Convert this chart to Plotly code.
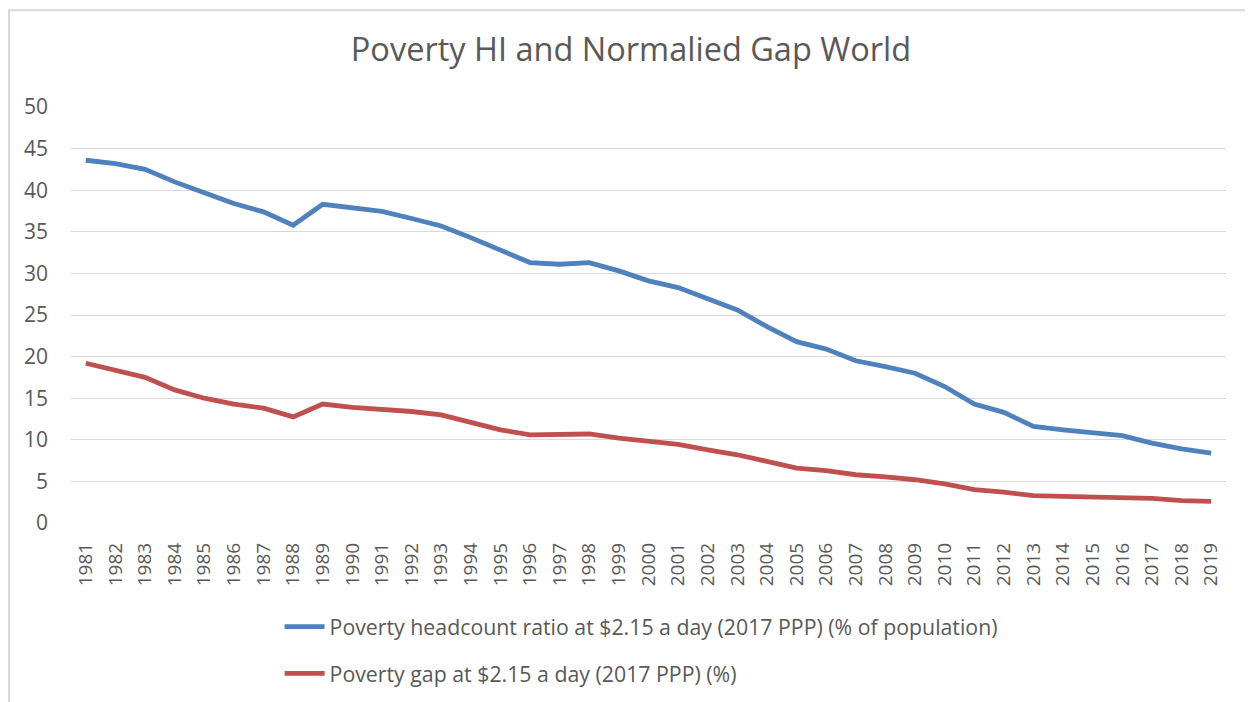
import plotly.graph_objects as go

years = list(range(1981, 2020))
headcount = [43.6, 43.2, 42.5, 41.0, 39.7, 38.4, 37.4, 35.8, 38.3, 37.9,
             37.45, 36.6, 35.7, 34.3, 32.8, 31.3, 31.1, 31.3, 30.3, 29.1,
             28.3, 27.0, 25.6, 23.6, 21.8, 20.9, 19.5, 18.8, 18.0, 16.4,
             14.3, 13.3, 11.6, 11.2, 10.8, 10.5, 9.6, 8.9, 8.4]
gap = [19.2, 18.4, 17.5, 16.0, 15.0, 14.3, 13.8, 12.75, 14.3, 13.9,
       13.7, 13.4, 13.0, 12.1, 11.2, 10.6, 10.6, 10.7, 10.2, 9.8,
       9.45, 8.8, 8.2, 7.4, 6.6, 6.3, 5.8, 5.55, 5.2, 4.7,
       4.0, 3.7, 3.3, 3.2, 3.15, 3.07, 2.95, 2.7, 2.6]
series_names = ["Poverty headcount ratio at $2.15 a day (2017 PPP) (% of population)",
                "Poverty gap at $2.15 a day (2017 PPP) (%)"]
title_text = "Poverty HI and Normalied Gap World"
y_ticks = [0, 5, 10, 15, 20, 25, 30, 35, 40, 45, 50]

FONT = "Open Sans"
GREY = "#595959"

fig = go.Figure()
fig.add_trace(go.Scatter(x=[str(y) for y in years], y=headcount, mode="lines",
                         name=series_names[0], legendgroup="a",
                         line=dict(color="#4f81bd", width=4.8)))
fig.add_trace(go.Scatter(x=[str(y) for y in years], y=gap, mode="lines",
                         name=series_names[1], legendgroup="b",
                         line=dict(color="#c0504d", width=4.8)))

fig.update_layout(
    width=1253, height=702,
    margin=dict(l=63, r=35, t=99, b=187),
    paper_bgcolor="white", plot_bgcolor="white",
    title=dict(text=title_text, x=0.4972, xanchor="center", y=0.9405, yanchor="middle",
               font=dict(family=FONT, size=32.5, color=GREY)),
    font=dict(family=FONT, color=GREY),
    xaxis=dict(type="category", tickangle=-90, showgrid=False, showline=False,
               ticks="", tickfont=dict(size=19, color=GREY), range=[-0.5, 38.5],
               ticklabelstandoff=15),
    yaxis=dict(range=[0, 50], tickvals=y_ticks, showgrid=True, gridcolor="#d9d9d9",
               gridwidth=1.2, zeroline=False, showline=False, ticks="",
               tickfont=dict(size=21, color=GREY), ticklabelstandoff=22),
    legend=dict(x=0.1806, xanchor="left", y=-0.2004, yanchor="top", orientation="v",
                tracegroupgap=16, font=dict(family=FONT, size=21.3, color=GREY),
                itemwidth=40),
    showlegend=True,
)
fig.add_shape(type="rect", xref="paper", yref="paper",
              x0=-0.0537, x1=1.2, y0=-0.6, y1=1.2326,
              line=dict(color="#d9d9d9", width=2), fillcolor="rgba(0,0,0,0)",
              layer="below")
fig.write_html("out.html")
